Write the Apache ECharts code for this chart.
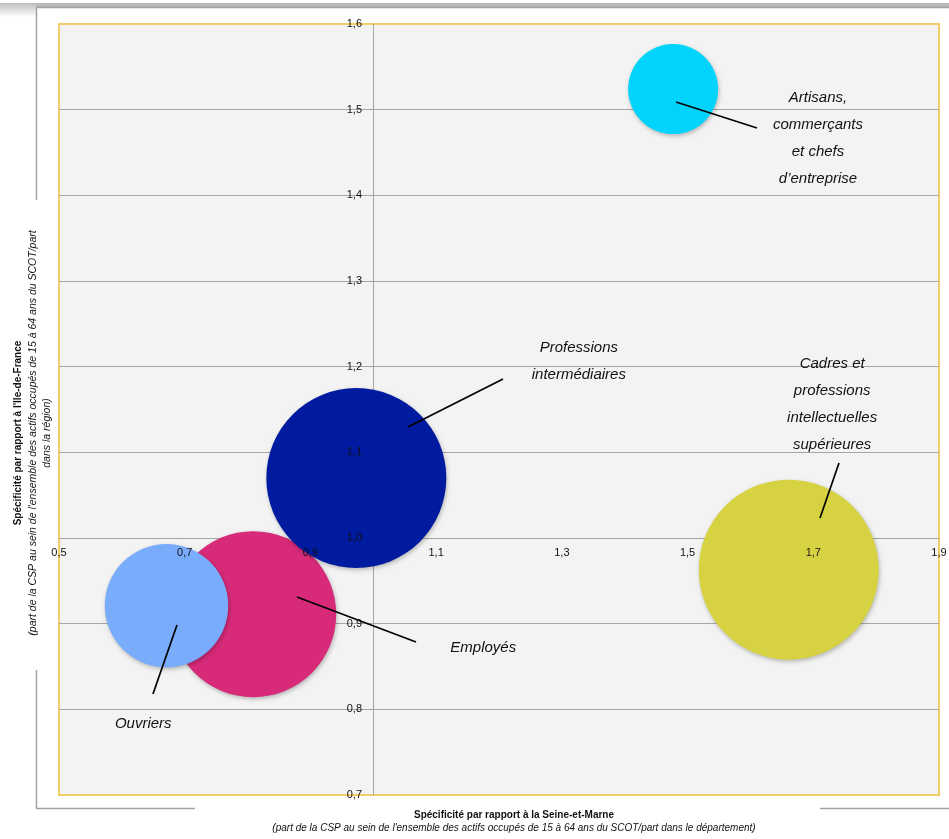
<!DOCTYPE html>
<html lang="fr">
<head>
<meta charset="utf-8">
<title>Spécificité des CSP</title>
<script src="https://cdn.jsdelivr.net/npm/echarts@6.0.0/dist/echarts.min.js"></script>
<style>
  html, body { margin: 0; padding: 0; background: #fff; }
  #chart { width: 949px; height: 839px; }
</style>
</head>
<body>
<div id="chart"></div>
<script>
// catégories (ordre de dessin : la dernière passe au-dessus)
const categories = [
  "Employés",
  "Ouvriers",
  "Professions intermédiaires",
  "Artisans, commerçants et chefs d'entreprise",
  "Cadres et professions intellectuelles supérieures"
];
// spécificité par rapport à la Seine-et-Marne (axe x)
const specSeineEtMarne = [0.809, 0.671, 0.973, 1.477, 1.661];
// spécificité par rapport à l'Ile-de-France (axe y)
const specIleDeFrance = [0.911, 0.921, 1.070, 1.524, 0.963];
// poids relatif des bulles
const poids = [85, 47, 100, 25, 100];

// bornes et pas des axes
const xBornes = [0.5, 1.9];
const xPas = 0.2;
const yBornes = [0.7, 1.6];
const yPas = 0.1;

// étiquettes des bulles (coordonnées dans le repère des données)
const etiquettes = [
  "Employés",
  "Ouvriers",
  "Professions\nintermédiaires",
  "Artisans,\ncommerçants\net chefs\nd’entreprise",
  "Cadres et\nprofessions\nintellectuelles\nsupérieures"
];
const etiquetteX = [1.175, 0.634, 1.327, 1.7075, 1.730];
const etiquetteY = [0.872, 0.783, 1.206, 1.467, 1.156];
// traits de rappel [x1, y1, x2, y2]
const traits = [
  [0.8786, 0.9311, 1.068, 0.8786],
  [0.6877, 0.8985, 0.6495, 0.8179],
  [1.0552, 1.1296, 1.2064, 1.1856],
  [1.4816, 1.509, 1.6105, 1.4786],
  [1.7107, 1.0233, 1.7409, 1.0876]
];

const couleurs = ["#d72a78", "#79adfb", "#001aa0", "#00d4fd", "#d6d241"];

const virgule = (v) => v.toFixed(1).replace(".", ",");

const chart = echarts.init(document.getElementById("chart"));

chart.setOption({
  animation: false,
  backgroundColor: "#ffffff",
  grid: {
    left: 59,
    top: 24,
    right: 10,
    bottom: 44,
    show: true,
    backgroundColor: "#f3f3f3",
    borderColor: "#f3cd68",
    borderWidth: 2,
    outerBoundsMode: "none"
  },
  xAxis: [
    {
      // ligne de base (sous les bulles)
      type: "value",
      min: xBornes[0],
      max: xBornes[1],
      interval: xPas,
      position: "bottom",
      offset: -257,
      axisLine: { show: true, onZero: false, lineStyle: { color: "#a6a6a6", width: 1 } },
      axisTick: { show: false },
      axisLabel: { show: false },
      splitLine: { show: false }
    },
    {
      // graduations (au-dessus des bulles)
      type: "value",
      min: xBornes[0],
      max: xBornes[1],
      interval: xPas,
      position: "bottom",
      offset: -257,
      z: 10,
      axisLine: { show: false },
      axisTick: { show: false },
      splitLine: { show: false },
      axisLabel: {
        margin: 9,
        color: "#111",
        fontSize: 11,
        fontFamily: "Liberation Sans, Arial, sans-serif",
        formatter: virgule
      }
    }
  ],
  yAxis: [
    {
      type: "value",
      min: yBornes[0],
      max: yBornes[1],
      interval: yPas,
      position: "left",
      offset: -314,
      axisLine: { show: true, onZero: false, lineStyle: { color: "#a6a6a6", width: 1 } },
      axisTick: { show: false },
      axisLabel: { show: false },
      splitLine: {
        show: true,
        showMinLine: false,
        showMaxLine: false,
        lineStyle: { color: "#a6a6a6", width: 1 }
      }
    },
    {
      type: "value",
      min: yBornes[0],
      max: yBornes[1],
      interval: yPas,
      position: "left",
      offset: -314,
      z: 10,
      axisLine: { show: false },
      axisTick: { show: false },
      splitLine: { show: false },
      axisLabel: {
        margin: 11,
        color: "#111",
        fontSize: 11,
        fontFamily: "Liberation Sans, Arial, sans-serif",
        formatter: virgule
      }
    }
  ],
  series: [
    {
      name: "CSP",
      type: "scatter",
      xAxisIndex: 0,
      yAxisIndex: 0,
      z: 3,
      symbolSize: (val) => 18 * Math.sqrt(val[2]),
      data: categories.map((c, i) => ({
        name: c,
        value: [specSeineEtMarne[i], specIleDeFrance[i], poids[i]],
        itemStyle: {
          color: couleurs[i],
          opacity: 1,
          shadowBlur: 4,
          shadowOffsetX: 1,
          shadowOffsetY: 2,
          shadowColor: "rgba(0,0,0,0.25)"
        }
      }))
    },
    {
      name: "traits",
      type: "lines",
      coordinateSystem: "cartesian2d",
      xAxisIndex: 0,
      yAxisIndex: 0,
      z: 5,
      silent: true,
      lineStyle: { color: "#000", width: 1.7, opacity: 1 },
      data: traits.map((t) => ({ coords: [[t[0], t[1]], [t[2], t[3]]] }))
    },
    {
      name: "étiquettes",
      type: "scatter",
      xAxisIndex: 0,
      yAxisIndex: 0,
      z: 6,
      silent: true,
      symbolSize: 1,
      itemStyle: { color: "rgba(0,0,0,0)", opacity: 1 },
      label: {
        show: true,
        position: "inside",
        formatter: (p) => etiquettes[p.dataIndex],
        color: "#111",
        opacity: 1,
        fontSize: 15,
        fontStyle: "italic",
        fontFamily: "Liberation Sans, Arial, sans-serif",
        lineHeight: 27,
        align: "center",
        verticalAlign: "middle"
      },
      data: etiquetteX.map((x, i) => [x, etiquetteY[i]])
    }
  ],
  graphic: [
    // bandeau gris en haut
    {
      type: "rect",
      shape: { x: 0, y: 3, width: 949, height: 4 },
      style: { fill: "#b9b9b9" },
      silent: true
    },
    {
      type: "rect",
      shape: { x: 0, y: 3, width: 36, height: 14 },
      style: {
        fill: new echarts.graphic.LinearGradient(0, 0, 0, 1, [
          { offset: 0, color: "#bdbdbd" },
          { offset: 1, color: "#ffffff" }
        ])
      },
      silent: true
    },
    // cadre extérieur
    {
      type: "polyline",
      shape: { points: [[949, 7.5], [36.5, 7.5], [36.5, 808.5], [195, 808.5]] },
      style: { stroke: "#a3a3a3", lineWidth: 1.5, fill: null },
      silent: true
    },
    {
      type: "line",
      shape: { x1: 820, y1: 808.5, x2: 949, y2: 808.5 },
      style: { stroke: "#a3a3a3", lineWidth: 1.5 },
      silent: true
    },
    // fond blanc derrière le titre vertical
    {
      type: "rect",
      shape: { x: 6, y: 200, width: 48, height: 470 },
      style: { fill: "#ffffff" },
      silent: true
    },
    // titre de l'axe vertical
    {
      type: "text",
      x: 33,
      y: 433,
      rotation: Math.PI / 2,
      silent: true,
      style: {
        text:
          "{b|Spécificité par rapport à l'Ile-de-France}\n" +
          "{i|(part de la CSP au sein de l'ensemble des actifs occupés de 15 à 64 ans du SCOT/part}\n" +
          "{i|dans la région)}",
        align: "center",
        verticalAlign: "middle",
        rich: {
          b: { fontSize: 10, fontWeight: "bold", fontFamily: "Liberation Sans, Arial, sans-serif", fill: "#111", lineHeight: 14.5 },
          i: { fontSize: 10.5, fontStyle: "italic", fontFamily: "Liberation Sans, Arial, sans-serif", fill: "#111", lineHeight: 14.5 }
        }
      }
    },
    // titre de l'axe horizontal
    {
      type: "text",
      x: 514,
      y: 822,
      silent: true,
      style: {
        text:
          "{b|Spécificité par rapport à la Seine-et-Marne}\n" +
          "{i|(part de la CSP au sein de l'ensemble des actifs occupés de 15 à 64 ans du SCOT/part dans le département)}",
        align: "center",
        verticalAlign: "middle",
        rich: {
          b: { fontSize: 10, fontWeight: "bold", fontFamily: "Liberation Sans, Arial, sans-serif", fill: "#111", lineHeight: 13 },
          i: { fontSize: 10, fontStyle: "italic", fontFamily: "Liberation Sans, Arial, sans-serif", fill: "#111", lineHeight: 13 }
        }
      }
    }
  ]
});
</script>
</body>
</html>
